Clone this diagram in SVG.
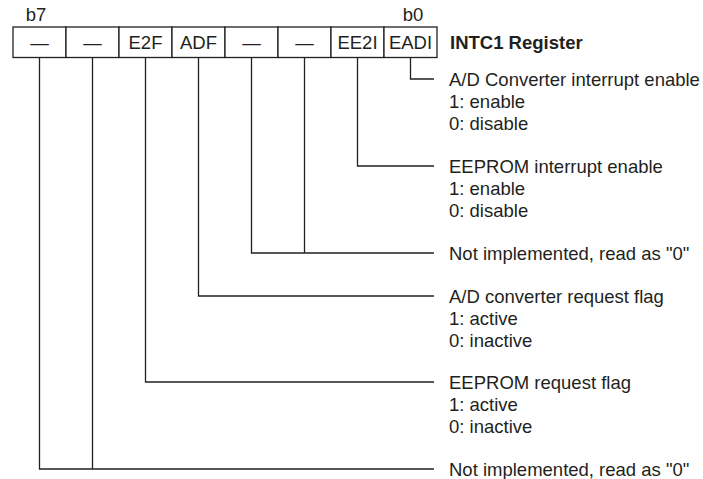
<svg xmlns="http://www.w3.org/2000/svg" width="703" height="479" viewBox="0 0 703 479">
<style>
text{font-family:"Liberation Sans",Arial,sans-serif;font-size:18.5px;fill:#231f20}
.c{text-anchor:middle}
.b{font-weight:bold}
.cell{fill:#fff;stroke:#231f20;stroke-width:1.3}
.w{fill:none;stroke:#231f20;stroke-width:1.3}
</style>
<rect width="703" height="479" fill="#fff"/>
<g id="register">
<text class="c" x="36" y="21">b7</text>
<text class="c" x="413" y="21">b0</text>
<rect class="cell" x="13" y="27" width="53" height="30.5"/>
<rect class="cell" x="66" y="27" width="53" height="30.5"/>
<rect class="cell" x="119" y="27" width="53" height="30.5"/>
<rect class="cell" x="172" y="27" width="53" height="30.5"/>
<rect class="cell" x="225" y="27" width="53" height="30.5"/>
<rect class="cell" x="278" y="27" width="53" height="30.5"/>
<rect class="cell" x="331" y="27" width="53" height="30.5"/>
<rect class="cell" x="384" y="27" width="53" height="30.5"/>
<text class="c" x="39.5" y="49">—</text>
<text class="c" x="92.5" y="49">—</text>
<text class="c" x="145.5" y="49">E2F</text>
<text class="c" x="198.5" y="49">ADF</text>
<text class="c" x="251.5" y="49">—</text>
<text class="c" x="304.5" y="49">—</text>
<text class="c" x="357.5" y="49">EE2I</text>
<text class="c" x="410.5" y="49">EADI</text>
<text class="b" x="450" y="49">INTC1 Register</text>
</g>
<g id="connectors">
<polyline class="w" points="410.5,57.5 410.5,79 434,79"/>
<polyline class="w" points="357.5,57.5 357.5,166 434,166"/>
<polyline class="w" points="251.5,57.5 251.5,253 434,253"/>
<line class="w" x1="304.5" y1="57.5" x2="304.5" y2="253"/>
<polyline class="w" points="198.5,57.5 198.5,296 434,296"/>
<polyline class="w" points="145.5,57.5 145.5,382 434,382"/>
<polyline class="w" points="39.5,57.5 39.5,469 434,469"/>
<line class="w" x1="92.5" y1="57.5" x2="92.5" y2="469"/>
</g>
<g id="desc-eadi">
<text x="449" y="86">A/D Converter interrupt enable</text>
<text x="449" y="108">1: enable</text>
<text x="449" y="130">0: disable</text>
</g>
<g id="desc-ee2i">
<text x="449" y="173">EEPROM interrupt enable</text>
<text x="449" y="195">1: enable</text>
<text x="449" y="217">0: disable</text>
</g>
<g id="desc-bits23">
<text x="449" y="260">Not implemented, read as "0"</text>
</g>
<g id="desc-adf">
<text x="449" y="303">A/D converter request flag</text>
<text x="449" y="325">1: active</text>
<text x="449" y="347">0: inactive</text>
</g>
<g id="desc-e2f">
<text x="449" y="389">EEPROM request flag</text>
<text x="449" y="411">1: active</text>
<text x="449" y="433">0: inactive</text>
</g>
<g id="desc-bits67">
<text x="449" y="476">Not implemented, read as "0"</text>
</g>
</svg>
